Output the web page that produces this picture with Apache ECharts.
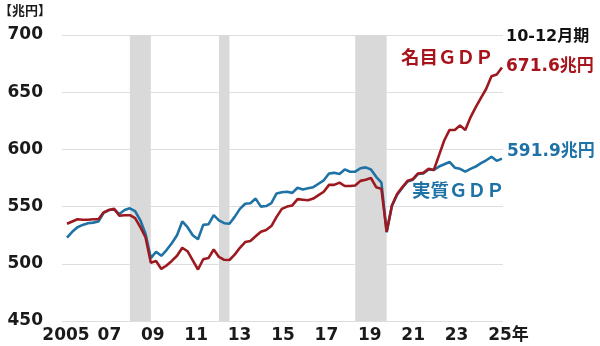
<!DOCTYPE html>
<html>
<head>
<meta charset="utf-8">
<script src="https://cdn.jsdelivr.net/npm/echarts@6/dist/echarts.min.js"></script>
<style>html,body{margin:0;padding:0;background:#fff}#chart{width:600px;height:346px}</style>
</head>
<body>
<div id="chart"></div>
<script>
// 四半期 (2005Q1 - 2025Q4)
var quarters = [];
for (var y = 2005; y <= 2025; y++) {
  for (var q = 1; q <= 4; q++) quarters.push(y + 'Q' + q);
}

var yearLabels = ['2005', '07', '09', '11', '13', '15', '17', '19', '21', '23', '25年'];

// 名目GDP (兆円)
var nominal = [
  535, 537, 539, 538.5, 538.5, 539, 539, 545, 547, 548, 542, 542.5,
  542.5, 540, 532, 523, 501, 502.5, 495.5, 498.5, 502.5, 507, 514, 511,
  503, 495, 504, 505, 512.5, 506, 503.5, 503.3, 508, 514, 519, 520,
  524, 528, 529.5, 533, 541, 548, 550, 551, 556.5, 556, 555.5, 557,
  560, 563, 569, 569, 571, 568, 568, 568.5, 572.5, 573.5, 575, 567,
  565.5, 528, 551, 561, 567, 572.5, 574, 579, 579.5, 583, 582, 595,
  608, 617, 617, 621, 617, 628, 637, 645, 653, 664, 665.5, 671.6
];

// 実質GDP (兆円)
var real = [
  522.8, 528, 532, 534, 535.5, 536, 537, 544.5, 547, 547.5, 543.5, 547,
  548.5, 546, 538, 526, 505, 510.5, 507, 512, 518, 525, 537, 532,
  525, 521.5, 534, 534.5, 542.5, 538, 535.5, 535, 541, 548, 552.5, 553,
  557, 550, 550.5, 553, 561.5, 562.5, 563, 562, 566.5, 565, 566, 567,
  570, 573, 579, 579.5, 578.5, 582.5, 580.5, 580.5, 583.5, 584.3, 582.5, 576,
  571, 527.5, 550.5, 560.5, 566.5, 572, 573.5, 578.5, 579, 582.5, 582, 585,
  587, 589, 584, 583, 580.5, 583, 585, 588, 590.5, 593.5, 590, 591.9
];

// 景気後退期
var recessions = [['2008Q1', '2009Q1'], ['2012Q2', '2012Q4'], ['2018Q4', '2020Q2']];

var RED = '#9c1a1f';
var BLUE = '#1f72a6';
var FONT = 'DejaVu Sans, Noto Sans CJK JP, sans-serif';
var JP = 'Noto Sans CJK JP, sans-serif';

function pairs(arr) {
  return arr.map(function (v, i) { return [i, v]; });
}

var chart = echarts.init(document.getElementById('chart'), null, { renderer: 'canvas' });

var option = {
  backgroundColor: '#fff',
  animation: false,
  grid: [
    { left: 62, right: 97, top: 35, bottom: 25 },
    { left: 66, right: 100, top: 35, bottom: 25 }
  ],
  xAxis: [
    { gridIndex: 0, type: 'value', min: -0.95, max: 83.2, show: false },
    {
      gridIndex: 1,
      type: 'category',
      boundaryGap: false,
      data: yearLabels,
      axisLine: { show: false },
      axisTick: { show: false },
      axisLabel: {
        interval: 0,
        margin: 6,
        fontSize: 17,
        fontWeight: 'bold',
        color: '#1a1a1a',
        fontFamily: FONT,
        formatter: function (v) {
          return v.indexOf('年') > 0 ? '{pad|}' + v : v;
        },
        rich: { pad: { width: 17 } }
      }
    }
  ],
  yAxis: [
    {
      gridIndex: 0,
      type: 'value',
      min: 450,
      max: 700,
      interval: 50,
      axisLine: { show: false },
      axisTick: { show: false },
      splitLine: { lineStyle: { color: '#dedede', width: 1 } },
      axisLabel: {
        margin: 19,
        fontSize: 17,
        fontWeight: 'bold',
        color: '#1a1a1a',
        fontFamily: FONT
      }
    },
    { gridIndex: 1, type: 'value', min: 0, max: 1, show: false }
  ],
  series: [
    {
      name: 'recession',
      type: 'line',
      xAxisIndex: 0,
      yAxisIndex: 0,
      data: [],
      z: 1,
      markArea: {
        silent: true,
        itemStyle: { color: '#d9d9d9' },
        data: recessions.map(function (r) {
          return [{ xAxis: quarters.indexOf(r[0]) }, { xAxis: quarters.indexOf(r[1]) }];
        })
      }
    },
    {
      name: '実質GDP',
      type: 'line',
      xAxisIndex: 0,
      yAxisIndex: 0,
      data: pairs(real),
      symbol: 'none',
      z: 3,
      lineStyle: { color: BLUE, width: 2.6 }
    },
    {
      name: '名目GDP',
      type: 'line',
      xAxisIndex: 0,
      yAxisIndex: 0,
      data: pairs(nominal),
      symbol: 'none',
      z: 4,
      lineStyle: { color: RED, width: 2.6 }
    }
  ],
  graphic: [
    { type: 'text', left: -1, top: 4, style: { text: '【兆円】', font: 'bold 13px ' + JP, fill: '#1a1a1a' } },
    { type: 'text', left: 506, top: 29, style: { text: '10-12月期', font: 'bold 16px ' + FONT, fill: '#111' } },
    { type: 'text', left: 401, top: 48, style: { text: '名目ＧＤＰ', font: 'bold 18.5px ' + JP, fill: '#a8141c' } },
    { type: 'text', left: 506, top: 58, style: { text: '671.6兆円', font: 'bold 17px ' + FONT, fill: '#a8141c' } },
    { type: 'text', left: 507, top: 143, style: { text: '591.9兆円', font: 'bold 17px ' + FONT, fill: BLUE } },
    { type: 'text', left: 412, top: 181, style: { text: '実質ＧＤＰ', font: 'bold 18.5px ' + JP, fill: BLUE } }
  ]
};

chart.setOption(option);
</script>
</body>
</html>
